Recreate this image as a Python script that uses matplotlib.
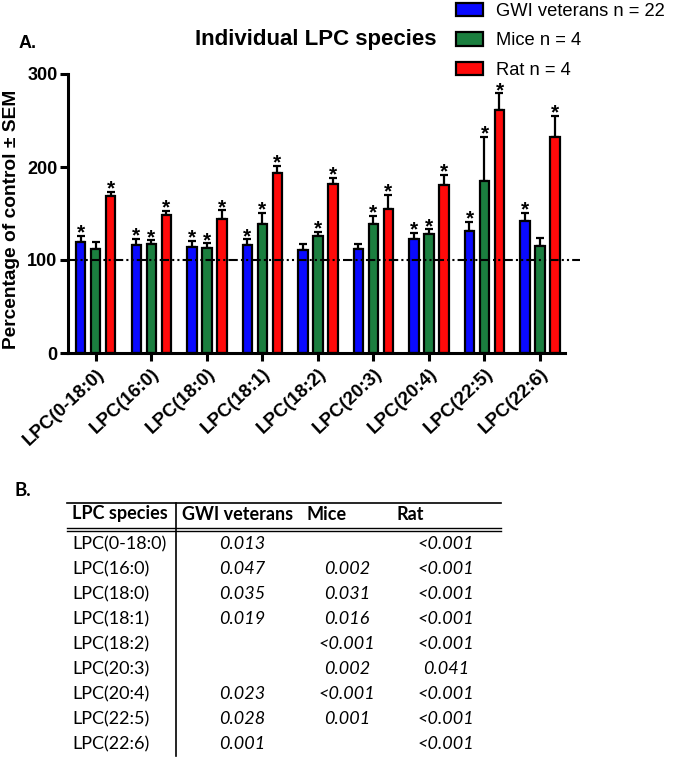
import numpy as np
import matplotlib
matplotlib.use("Agg")
import matplotlib.pyplot as plt
from matplotlib.patches import Patch

plt.rcParams['font.family'] = ['Liberation Sans', 'DejaVu Sans']

# data (percentage of control, bar height and SEM)
species = ['LPC(0-18:0)', 'LPC(16:0)', 'LPC(18:0)', 'LPC(18:1)', 'LPC(18:2)',
           'LPC(20:3)', 'LPC(20:4)', 'LPC(22:5)', 'LPC(22:6)']
groups = ['GWI veterans n = 22', 'Mice n = 4', 'Rat n = 4']
colors = ['#0a0aff', '#1b7f3f', '#ff0a0a']

gwi_mean = [119.3, 116.0, 114.3, 116.0, 111.0, 111.4, 122.2, 131.2, 141.9]
gwi_sem = [6.5, 6.9, 6.1, 6.2, 5.8, 6.1, 7.2, 10.0, 9.0]
mice_mean = [111.4, 117.5, 113.2, 138.3, 125.8, 139.0, 128.3, 185.0, 115.0]
mice_sem = [8.3, 3.5, 4.7, 12.6, 4.6, 8.3, 4.7, 47.5, 8.2]
rat_mean = [168.9, 148.4, 144.4, 193.3, 181.5, 155.2, 180.4, 261.2, 231.8]
rat_sem = [4.7, 4.6, 9.0, 7.9, 7.1, 14.8, 11.1, 18.0, 23.3]

gwi_sig = [1, 1, 1, 1, 0, 0, 1, 1, 1]
mice_sig = [0, 1, 1, 1, 1, 1, 1, 1, 0]
rat_sig = [1, 1, 1, 1, 1, 1, 1, 1, 1]

# p-value table (panel B)
table_header = ['LPC species', 'GWI veterans', 'Mice', 'Rat']
p_gwi = ['0.013', '0.047', '0.035', '0.019', '', '', '0.023', '0.028', '0.001']
p_mice = ['', '0.002', '0.031', '0.016', '<0.001', '0.002', '<0.001', '0.001', '']
p_rat = ['<0.001', '<0.001', '<0.001', '<0.001', '<0.001', '0.041', '<0.001', '<0.001', '<0.001']

W, H = 676, 759
fig = plt.figure(figsize=(W / 100, H / 100), dpi=100)

# ---- panel A: bar chart
ax = fig.add_axes([68 / W, 1 - 353 / H, 497 / W, 279 / H])
x = np.arange(len(species))
offsets = [-0.27, 0.0, 0.27]
means = [gwi_mean, mice_mean, rat_mean]
sems = [gwi_sem, mice_sem, rat_sem]
sigs = [gwi_sig, mice_sig, rat_sig]

for off, m, s, sg, c, lab in zip(offsets, means, sems, sigs, colors, groups):
    m = np.array(m)
    s = np.array(s)
    ax.bar(x + off, m, width=0.17, color=c, edgecolor='black', linewidth=1.6,
           label=lab, zorder=2)
    ax.errorbar(x + off, m, yerr=[np.zeros_like(s), s], fmt='none', ecolor='black',
                elinewidth=1.6, capsize=3, capthick=1.6, zorder=1)
    for xi, top, star in zip(x + off, m + s, sg):
        if star:
            ax.annotate('*', xy=(xi, top), xytext=(0, -2), textcoords='offset points',
                        ha='center', va='baseline', fontsize=15, fontweight='bold')

ax.axhline(100, xmin=0, xmax=1.03, color='black', lw=1.5, clip_on=False, zorder=3,
           dashes=(4.5, 1.5, 1, 1.5, 1, 1.5))

ax.set_xlim(-0.5, 8.45)
ax.set_ylim(0, 300)
ax.set_yticks([0, 100, 200, 300])
ax.set_xticks(x)
ax.set_xticklabels(species, rotation=43, ha='right', rotation_mode='anchor',
                   fontsize=13.5, fontweight='bold')
for t in ax.get_yticklabels():
    t.set_fontweight('bold')
    t.set_fontsize(13)
ax.tick_params(axis='both', direction='out', width=2.2, length=5.5, pad=2)
ax.tick_params(axis='x', pad=3, length=6)
for side in ['top', 'right']:
    ax.spines[side].set_visible(False)
for side in ['left', 'bottom']:
    ax.spines[side].set_linewidth(2.2)
ax.set_ylabel('Percentage of control ± SEM', fontsize=13.8, fontweight='bold')
ax.yaxis.set_label_coords(-0.097, 0.48)

fig.text(19 / W, 1 - 43 / H, 'A.', fontsize=13, fontweight='bold', va='center')
fig.text(316 / W, 1 - 40 / H, 'Individual LPC species', fontsize=16, fontweight='bold',
         ha='center', va='center')

handles = [Patch(facecolor=c, edgecolor='black', linewidth=1.6) for c in colors]
fig.legend(handles, groups, loc='upper left', bbox_to_anchor=(453 / W, 1.0),
           frameon=False, handlelength=1.47, handleheight=0.77,
           handletextpad=0.75, labelspacing=0.67, borderaxespad=0, borderpad=0.15,
           prop={'size': 13.2})

# ---- panel B: p-value table drawn in pixel coordinates
tb = fig.add_axes([0, 0, 1, 1])
tb.set_xlim(0, W)
tb.set_ylim(H, 0)
tb.axis('off')

fig.text(15 / W, 1 - 491 / H, 'B.', fontsize=13.5, fontweight='bold', va='center',
         family='Lato')

tfont = dict(family='Lato', fontsize=13)
hdr_x = [72, 182, 307, 396]
for hx, h in zip(hdr_x, table_header):
    tb.text(hx, 514, h, ha='left', va='center', fontweight='bold', **tfont)

tb.plot([67, 501], [503, 503], color='black', lw=1.2)
tb.plot([67, 501], [528, 528], color='black', lw=1.0)
tb.plot([67, 501], [531, 531], color='black', lw=1.0)
tb.plot([176, 176], [503, 756], color='black', lw=1.2)

row_y0, row_dy = 544, 25
for i, sp in enumerate(species):
    y = row_y0 + i * row_dy
    tb.text(72, y, sp, ha='left', va='center', **tfont)
    tb.text(242, y, p_gwi[i], ha='center', va='center', style='italic', **tfont)
    tb.text(347, y, p_mice[i], ha='center', va='center', style='italic', **tfont)
    tb.text(446, y, p_rat[i], ha='center', va='center', style='italic', **tfont)

fig.savefig('out.png', dpi=100)
